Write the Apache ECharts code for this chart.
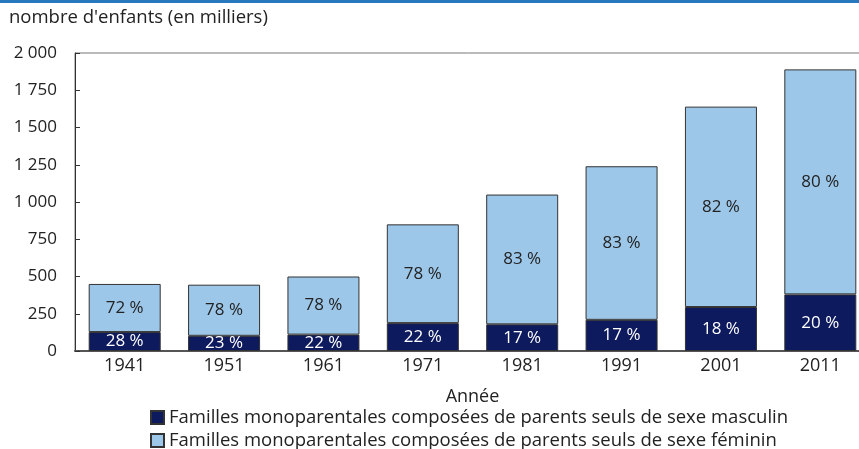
<!DOCTYPE html>
<html lang="fr">
<head>
<meta charset="UTF-8">
<title>Enfants dans les familles monoparentales</title>
<script src="https://cdn.jsdelivr.net/npm/echarts@6.0.0/dist/echarts.min.js"></script>
<style>
  html, body { margin: 0; padding: 0; background: #fff; }
  #chart { width: 859px; height: 449px; }
</style>
</head>
<body>
<div id="chart"></div>
<script>
  // données (en milliers d'enfants)
  const years = ['1941', '1951', '1961', '1971', '1981', '1991', '2001', '2011'];
  const maleValues = [127, 102, 110, 187, 179, 209, 295, 380];
  const femaleValues = [323, 343, 390, 663, 871, 1031, 1345, 1510];
  const malePct = ['28 %', '23 %', '22 %', '22 %', '17 %', '17 %', '18 %', '20 %'];
  const femalePct = ['72 %', '78 %', '78 %', '78 %', '83 %', '83 %', '82 %', '80 %'];
  const yTicks = [0, 250, 500, 750, 1000, 1250, 1500, 1750, 2000];

  const MALE = 'Familles monoparentales composées de parents seuls de sexe masculin';
  const FEMALE = 'Familles monoparentales composées de parents seuls de sexe féminin';

  const FONT = '"Open Sans", Lato, sans-serif';
  const chart = echarts.init(document.getElementById('chart'));

  function fmt(v) {
    return String(v).replace(/\B(?=(\d{3})+(?!\d))/g, ' ');
  }

  const legendBase = {
    left: 145,
    itemWidth: 13, itemHeight: 13, itemGap: 6,
    icon: 'rect',
    textStyle: { fontSize: 18.5, color: '#222', fontFamily: FONT }
  };

  chart.setOption({
    animation: false,
    textStyle: { fontFamily: FONT },
    graphic: [
      { type: 'rect', left: 0, top: 0, shape: { width: 859, height: 3 }, style: { fill: '#2878be' } },
      { type: 'text', left: 9, top: 8, style: { text: "nombre d'enfants (en milliers)", font: '18.5px ' + FONT, fill: '#222' } }
    ],
    grid: { left: 75, top: 53, width: 795, height: 298, outerBoundsMode: 'none', show: true, borderColor: '#777', borderWidth: 1 },
    legend: [
      Object.assign({ top: 403, data: [MALE] }, legendBase),
      Object.assign({ top: 426, data: [FEMALE] }, legendBase)
    ],
    xAxis: {
      type: 'category',
      data: years,
      name: 'Année',
      nameLocation: 'middle',
      nameGap: 37,
      nameTextStyle: { fontSize: 18, color: '#222' },
      axisLine: { lineStyle: { color: '#555', width: 2 } },
      axisTick: { show: false },
      axisLabel: { fontSize: 18, color: '#222', margin: 6 }
    },
    yAxis: {
      type: 'value',
      min: 0, max: 2000, interval: 250,
      axisLine: { show: true, lineStyle: { color: '#333', width: 1 } },
      axisTick: { show: true, inside: true, length: 5, lineStyle: { color: '#333' } },
      splitLine: { show: false },
      axisLabel: { fontSize: 17, color: '#222', margin: 18, formatter: v => yTicks.includes(v) ? fmt(v) : '' }
    },
    series: [
      {
        name: MALE,
        type: 'bar', stack: 'total', barWidth: 72,
        data: maleValues,
        itemStyle: { color: '#0e1a5e', borderColor: '#333', borderWidth: 1 },
        label: { show: true, position: 'inside', color: '#fff', fontSize: 17, formatter: p => malePct[p.dataIndex] }
      },
      {
        name: FEMALE,
        type: 'bar', stack: 'total', barWidth: 72,
        data: femaleValues,
        itemStyle: { color: '#9dc7e9', borderColor: '#333', borderWidth: 1 },
        label: { show: true, position: 'inside', color: '#222', fontSize: 17, formatter: p => femalePct[p.dataIndex] }
      }
    ]
  });
</script>
</body>
</html>
